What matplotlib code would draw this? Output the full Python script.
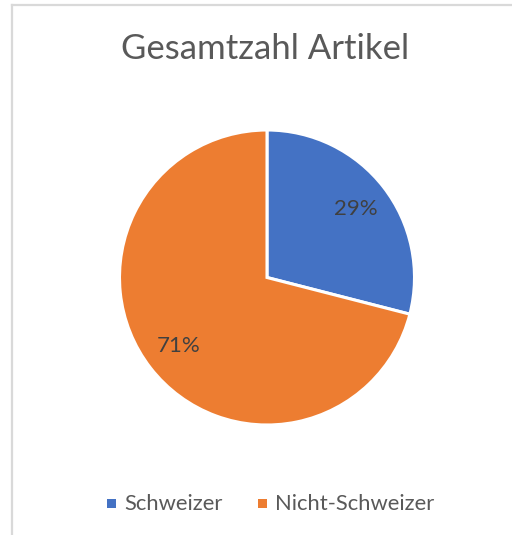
import matplotlib
matplotlib.use("Agg")
import matplotlib.pyplot as plt
from matplotlib.lines import Line2D
from matplotlib.patches import Rectangle

categories = ["Schweizer", "Nicht-Schweizer"]
values = [29, 71]
colors = ["#4472C4", "#ED7D31"]
title = "Gesamtzahl Artikel"

plt.rcParams['font.family'] = ['Lato', 'DejaVu Sans']

W, H = 512, 535
fig = plt.figure(figsize=(W / 100, H / 100), dpi=100)
fig.patch.set_facecolor("white")

cx, cy, r = 267, 277.5, 147.5
ax = fig.add_axes([(cx - r) / W, (H - cy - r) / H, 2 * r / W, 2 * r / H])
wedges, texts, autotexts = ax.pie(
    values, colors=colors, startangle=90, counterclock=False,
    autopct=lambda p: f"{p:.0f}%", pctdistance=0.76,
    wedgeprops=dict(edgecolor="white", linewidth=2.2),
    textprops=dict(color="#404040", fontsize=16))
ax.set_xlim(-1, 1)
ax.set_ylim(-1, 1)
ax.set_aspect("equal")
ax.axis("off")

# chart border (left and top visible)
fig.add_artist(Line2D([12 / W, 12 / W], [0, 1 - 5 / H], transform=fig.transFigure,
                      color="#D9D9D9", linewidth=1.6))
fig.add_artist(Line2D([12 / W, 1], [1 - 5 / H, 1 - 5 / H], transform=fig.transFigure,
                      color="#D9D9D9", linewidth=1.6))

fig.text(265.5 / W, 1 - 49 / H, title, ha="center", va="center",
         fontsize=25, color="#595959")

# legend
leg_x = [107, 258]
leg_y = 503.5
for x0, lab, col in zip(leg_x, categories, colors):
    fig.add_artist(Rectangle((x0 / W, 1 - (leg_y + 4.5) / H), 9 / W, 9 / H,
                             transform=fig.transFigure, facecolor=col, edgecolor="none"))
    fig.text((x0 + 17) / W, 1 - leg_y / H, lab, ha="left", va="center",
             fontsize=15.8, color="#595959")

fig.savefig("out.png", dpi=100)
